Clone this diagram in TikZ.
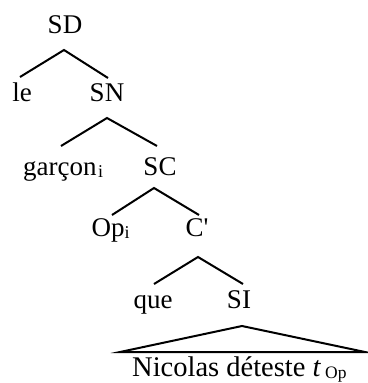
\documentclass[tikz,border=0pt]{standalone}
\usepackage{fontspec}
\setmainfont{Liberation Serif}
\begin{document}
\begin{tikzpicture}[x=1pt,y=-1pt,
  lbl/.style={inner sep=0pt,anchor=base,font=\fontsize{27}{30}\selectfont},
  bigl/.style={lbl,font=\fontsize{28.5}{30}\selectfont},
  edge/.style={line width=2pt,line join=miter}]
\useasboundingbox (0,0) rectangle (367,383);
\newcommand{\smallsub}[1]{\raisebox{-2.5pt}{\fontsize{18}{18}\selectfont #1}}
% labels
\node[lbl] (SD) at (65,33) {SD};
\node[lbl] (le) at (22,101) {le};
\node[lbl] (SN) at (107,101) {SN};
\node[lbl,anchor=base west] (garcon) at (23,175) {garçon\hspace{1.5pt}\smallsub{i}};
\node[lbl] (SC) at (160,175) {SC};
\node[lbl,anchor=base west] (Op) at (91.5,236) {Op\smallsub{i}};
\node[lbl] (Cbar) at (197,236) {C\textquotesingle};
\node[lbl] (que) at (153,308) {que};
\node[lbl] (SI) at (239,308) {SI};
\node[bigl,anchor=base west] (phrase) at (132,376) {Nicolas déteste \textit{t}\hspace{4pt}\raisebox{-2pt}{\fontsize{17.5}{17}\selectfont Op}};
% branch points
\coordinate (SDb) at (64,50);
\coordinate (let) at (20,77);
\coordinate (SNt) at (108,78);
\coordinate (SNb) at (107,118);
\coordinate (garcont) at (61,146);
\coordinate (SCt) at (157,146);
\coordinate (SCb) at (154,188);
\coordinate (Opt) at (112,215);
\coordinate (Cbart) at (199,215);
\coordinate (Cbarb) at (198,257);
\coordinate (quet) at (154,284);
\coordinate (SIt) at (243,284);
\coordinate (SIb) at (242,326);
\coordinate (triL) at (120,352);
\coordinate (triR) at (365,352);
% edges
\draw[edge] (let) -- (SDb) -- (SNt);
\draw[edge] (garcont) -- (SNb) -- (SCt);
\draw[edge] (Opt) -- (SCb) -- (Cbart);
\draw[edge] (quet) -- (Cbarb) -- (SIt);
\draw[edge] (triL) -- (SIb) -- (triR) -- cycle;
\end{tikzpicture}
\end{document}
